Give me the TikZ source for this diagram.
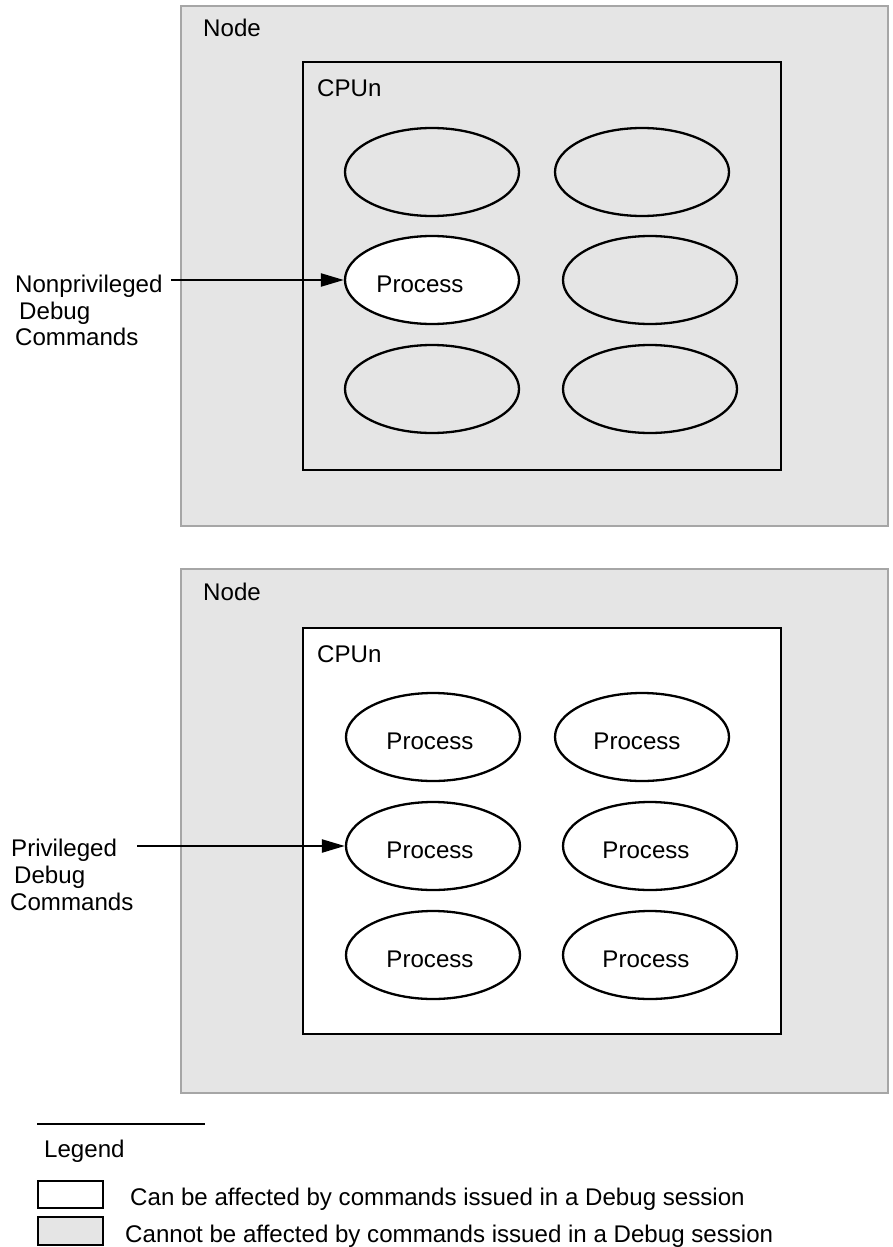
\documentclass[tikz,border=0pt]{standalone}
\usepackage{fontspec}
\setmainfont{Liberation Sans}
\usetikzlibrary{arrows.meta,shapes.geometric}
\definecolor{shade}{RGB}{229,229,229}
\definecolor{frame}{RGB}{166,166,166}
\tikzset{
  nodebox/.style={draw=frame, line width=2.2pt, fill=shade},
  cpubox/.style={draw=black, line width=2.5pt},
  proc/.style={ellipse, draw=black, line width=2.3pt, minimum width=174pt,
               minimum height=88pt, inner sep=0pt},
  ptext/.style={inner sep=0pt},
  lbl/.style={anchor=base west, inner sep=0pt},
  cmd/.style={line width=2.3pt, -{Triangle[length=23pt,width=13pt]}},
  keybox/.style={draw=black, line width=2pt}
}
\begin{document}
\begin{tikzpicture}[x=1pt, y=-1pt, font=\fontsize{24.1}{29}\selectfont]
\useasboundingbox (0,0) rectangle (893,1247);

% ---- upper: nonprivileged debugging ----
\path[nodebox] (181,6) rectangle (888,526);
\node[lbl] (n1) at (203,37) {Node};
\path[cpubox, fill=shade] (303,62) rectangle (781,470);
\node[lbl] (c1) at (317,96) {CPUn};

\node[proc, fill=shade] (u11) at (432,172) {};
\node[proc, fill=shade] (u12) at (642,172) {};
\node[proc, fill=white] (u21) at (432,280) {};
\node[proc, fill=shade] (u22) at (650,280) {};
\node[proc, fill=shade] (u31) at (432,389) {};
\node[proc, fill=shade] (u32) at (650,389) {};
\node[ptext] (ut21) at (420,284) {Process};

\node[lbl] (nl1) at (15,292) {Nonprivileged};
\node[lbl] (nl2) at (19,319) {Debug};
\node[lbl] (nl3) at (15,345) {Commands};
\coordinate (ns) at (171,280);
\draw[cmd] (ns) -- (u21.west);

% ---- lower: privileged debugging ----
\path[nodebox] (181,569) rectangle (888,1093);
\node[lbl] (n2) at (203,600) {Node};
\path[cpubox, fill=white] (303,628) rectangle (781,1034);
\node[lbl] (c2) at (317,662) {CPUn};

\node[proc, fill=white] (l11) at (433,737) {};
\node[proc, fill=white] (l12) at (642,737) {};
\node[proc, fill=white] (l21) at (433,846) {};
\node[proc, fill=white] (l22) at (650,846) {};
\node[proc, fill=white] (l31) at (433,955) {};
\node[proc, fill=white] (l32) at (650,955) {};
\node[ptext] (lt11) at (430,741) {Process};
\node[ptext] (lt12) at (637,741) {Process};
\node[ptext] (lt21) at (430,850) {Process};
\node[ptext] (lt22) at (646,850) {Process};
\node[ptext] (lt31) at (430,959) {Process};
\node[ptext] (lt32) at (646,959) {Process};

\node[lbl] (pl1) at (11,856) {Privileged};
\node[lbl] (pl2) at (14,883) {Debug};
\node[lbl] (pl3) at (10,910) {Commands};
\coordinate (ps) at (137,846);
\draw[cmd] (ps) -- (l21.west);

% ---- legend ----
\draw[line width=2pt] (37,1124) -- (205,1124);
\node[lbl] (lg) at (44,1157) {Legend};
\path[keybox, fill=white] (38,1181) rectangle (103,1208);
\path[keybox, fill=shade] (38,1217) rectangle (103,1245);
\node[lbl] (k1) at (130,1205) {Can be affected by commands issued in a Debug session};
\node[lbl] (k2) at (125,1242) {Cannot be affected by commands issued in a Debug session};
\end{tikzpicture}
\end{document}
